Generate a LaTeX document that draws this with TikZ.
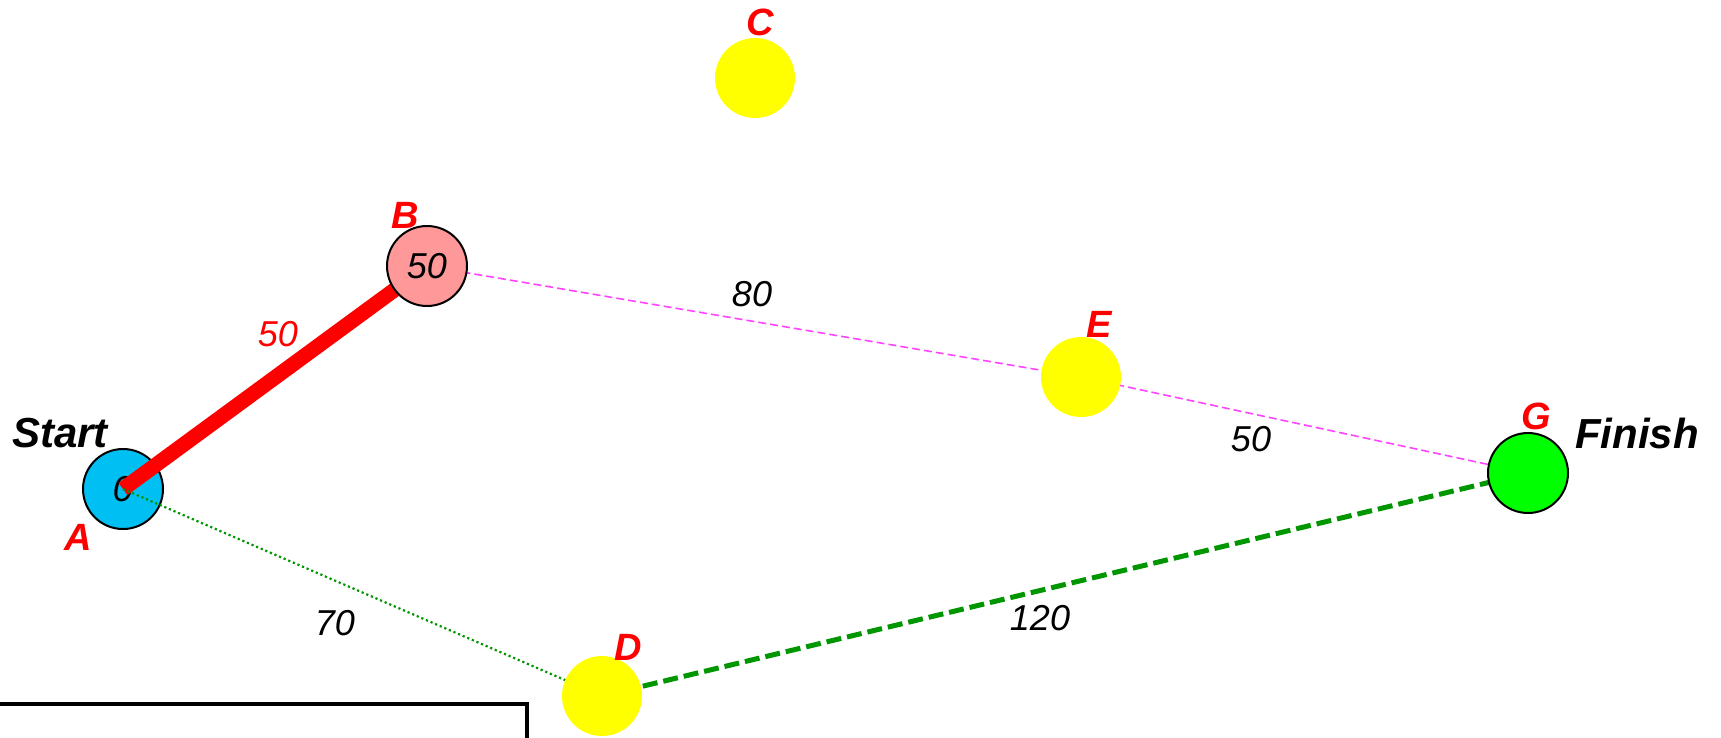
\documentclass[tikz,border=0pt]{standalone}
\usepackage{fontspec}
\setmainfont{Liberation Sans}
\begin{document}
\begin{tikzpicture}[x=1pt,y=-1pt,
  vertex/.style={circle,minimum size=80pt,inner sep=0pt},
  bordered/.style={vertex,draw=black,line width=2pt},
  numtxt/.style={font=\fontsize{36}{40}\selectfont\itshape,text=black},
  lettxt/.style={font=\fontsize{38}{42}\selectfont\bfseries\itshape,text=red},
  bigtxt/.style={font=\fontsize{42}{46}\selectfont\bfseries\itshape,text=black},
  pinkedge/.style={draw={rgb,255:red,255;green,68;blue,255},line width=1.6pt,dash pattern=on 8pt off 4pt},
]
\useasboundingbox (0,0) rectangle (1721,737);
\definecolor{cA}{RGB}{0,191,243}
\definecolor{cB}{RGB}{255,153,153}
\definecolor{cY}{RGB}{255,255,0}
\definecolor{cG}{RGB}{0,255,0}
\definecolor{dgreen}{RGB}{0,150,0}
% start node
\node[bordered,fill=cA,numtxt] (A) at (123,489) {0};
% coordinates for other nodes
\coordinate (Bc) at (427,266);
\coordinate (Cc) at (755,78);
\coordinate (Dc) at (602,696);
\coordinate (Ec) at (1081,377);
\coordinate (Gc) at (1528,473);
% edges
\draw[red,line width=15pt] (A.center) -- (Bc);
\draw[dgreen,line width=2.2pt,dash pattern=on 2.2pt off 2.8pt] (A.center) -- (Dc);
\draw[pinkedge] (Bc) -- (Ec);
\draw[pinkedge] (Ec) -- (Gc);
\draw[dgreen,line width=5pt,dash pattern=on 15pt off 6pt] (Dc) -- (Gc);
% other nodes
\node[bordered,fill=cB,numtxt] (B) at (Bc) {50};
\node[vertex,fill=cY] (C) at (Cc) {};
\node[vertex,fill=cY] (D) at (Dc) {};
\node[vertex,fill=cY] (E) at (Ec) {};
\node[bordered,fill=cG] (G) at (Gc) {};
% node letters
\node[lettxt] (lA) at (78,537) {A};
\node[lettxt] (lB) at (405,215) {B};
\node[lettxt] (lC) at (760,22) {C};
\node[lettxt] (lD) at (628,647) {D};
\node[lettxt] (lE) at (1099,324) {E};
\node[lettxt] (lG) at (1536,416) {G};
\node[bigtxt] (start) at (60,433) {Start};
\node[bigtxt] (finish) at (1637,433) {Finish};
% edge labels
\node[numtxt,text=red] (wAB) at (278,334) {50};
\node[numtxt] (wBE) at (752,294) {80};
\node[numtxt] (wEG) at (1251,439) {50};
\node[numtxt] (wAD) at (335,623) {70};
\node[numtxt] (wDG) at (1040,618) {120};
% bottom box
\draw[black,line width=4.5pt] (0,704) -- (527,704) -- (527,745);
\end{tikzpicture}
\end{document}
